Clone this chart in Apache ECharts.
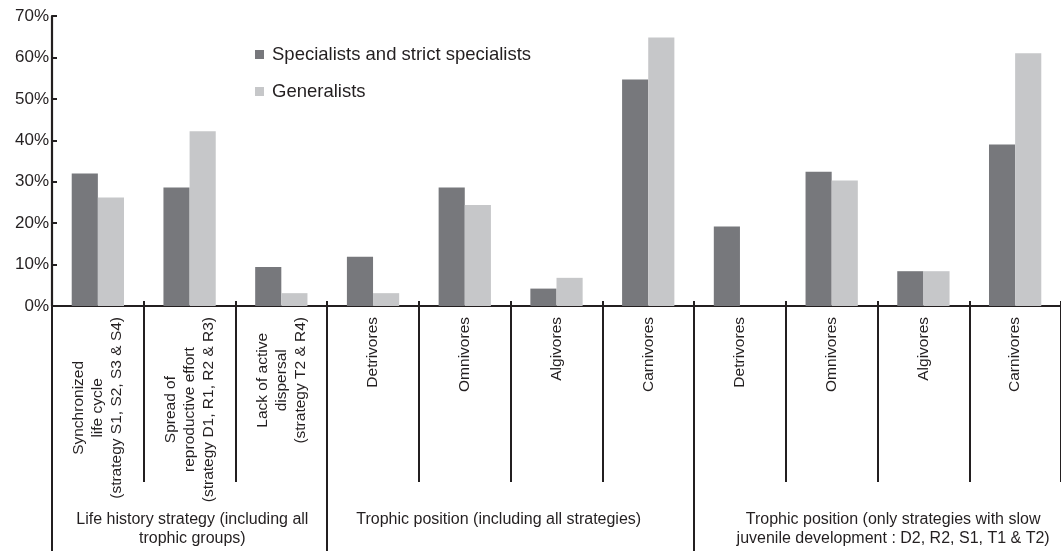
<!DOCTYPE html>
<html>
<head>
<meta charset="utf-8">
<script src="https://cdn.jsdelivr.net/npm/echarts@6/dist/echarts.min.js"></script>
<style>
  html, body { margin: 0; padding: 0; background: #fff; }
  #chart { width: 1061px; height: 551px; }
</style>
</head>
<body>
<div id="chart"></div>
<script>
const categories = [
  'Synchronized\nlife cycle\n(strategy S1, S2, S3 & S4)',
  'Spread of\nreproductive effort\n(strategy D1, R1, R2 & R3)',
  'Lack of active\ndispersal\n(strategy T2 & R4)',
  'Detrivores', 'Omnivores', 'Algivores', 'Carnivores',
  'Detrivores', 'Omnivores', 'Algivores', 'Carnivores'
]
const specialists = [32.0, 28.6, 9.4, 11.9, 28.6, 4.2, 54.7, 19.2, 32.4, 8.4, 39.0]
const generalists = [26.2, 42.2, 3.1, 3.1, 24.4, 6.8, 64.8, 0, 30.3, 8.4, 61.0]
const groupNames = [
  'Life history strategy (including all\ntrophic groups)',
  'Trophic position (including all strategies)',
  'Trophic position (only strategies with slow\njuvenile development : D2, R2, S1, T1 & T2)'
]
const groupBounds = [0, 3, 7]
const groupCenters = [1.53, 4.87, 9.17]
const yTicks = [0, 10, 20, 30, 40, 50, 60, 70]

const FONT = '"Liberation Sans", Arial, Helvetica, sans-serif'
const INK = '#231f20'

const chart = echarts.init(document.getElementById('chart'))

chart.setOption({
  backgroundColor: '#fff',
  animation: false,
  textStyle: { fontFamily: FONT, color: INK },
  legend: {
    orient: 'vertical',
    left: 250,
    top: 40,
    itemWidth: 9,
    itemHeight: 9,
    itemGap: 18,
    icon: 'rect',
    textStyle: { fontSize: 18.5, color: INK, fontFamily: FONT, padding: [0, 0, 0, 3] },
    data: ['Specialists and strict specialists', 'Generalists']
  },
  grid: { left: 52, top: 16, width: 1015, height: 290 },
  xAxis: [
    {
      type: 'category',
      data: categories,
      position: 'bottom',
      axisLine: { lineStyle: { color: INK, width: 2.2 } },
      axisTick: { show: true, interval: 0, length: 176, lineStyle: { color: INK, width: 2 } },
      axisLabel: {
        interval: 0,
        rotate: 90,
        margin: 11,
        formatter: (v) => v.split('\n').map((s) => '{c|' + s + '}').join('\n'),
        rich: { c: { fontSize: 15.5, lineHeight: 19, align: 'center', color: INK, fontFamily: FONT } }
      }
    },
    {
      type: 'category',
      data: categories,
      position: 'bottom',
      axisLine: { show: false },
      axisTick: { show: true, interval: 0, inside: true, length: 5, lineStyle: { color: INK, width: 2 } },
      axisLabel: { show: false }
    },
    {
      type: 'value',
      min: 0,
      max: categories.length,
      position: 'bottom',
      axisLine: { show: false },
      splitLine: { show: false },
      axisTick: { show: true, customValues: groupBounds, length: 245, lineStyle: { color: INK, width: 2 } },
      axisLabel: {
        customValues: groupCenters,
        margin: 204,
        verticalAlign: 'top',
        fontSize: 16,
        lineHeight: 19,
        color: INK,
        fontFamily: FONT,
        formatter: (v) => {
          const i = groupCenters.findIndex((c) => Math.abs(c - v) < 1e-6)
          return i >= 0 ? groupNames[i] : ''
        }
      }
    }
  ],
  yAxis: {
    type: 'value',
    min: yTicks[0],
    max: yTicks[yTicks.length - 1],
    interval: 10,
    axisLine: { show: true, lineStyle: { color: INK, width: 2.2 } },
    axisTick: { show: true, inside: true, length: 5, lineStyle: { color: INK, width: 2 } },
    splitLine: { show: false },
    axisLabel: { formatter: '{value}%', fontSize: 17, color: INK, fontFamily: FONT, margin: 3 }
  },
  series: [
    {
      name: 'Specialists and strict specialists',
      type: 'bar',
      data: specialists,
      barGap: '0%',
      barCategoryGap: '43%',
      itemStyle: { color: '#77787c' }
    },
    {
      name: 'Generalists',
      type: 'bar',
      data: generalists,
      itemStyle: { color: '#c6c7c9' }
    }
  ]
})
</script>
</body>
</html>
